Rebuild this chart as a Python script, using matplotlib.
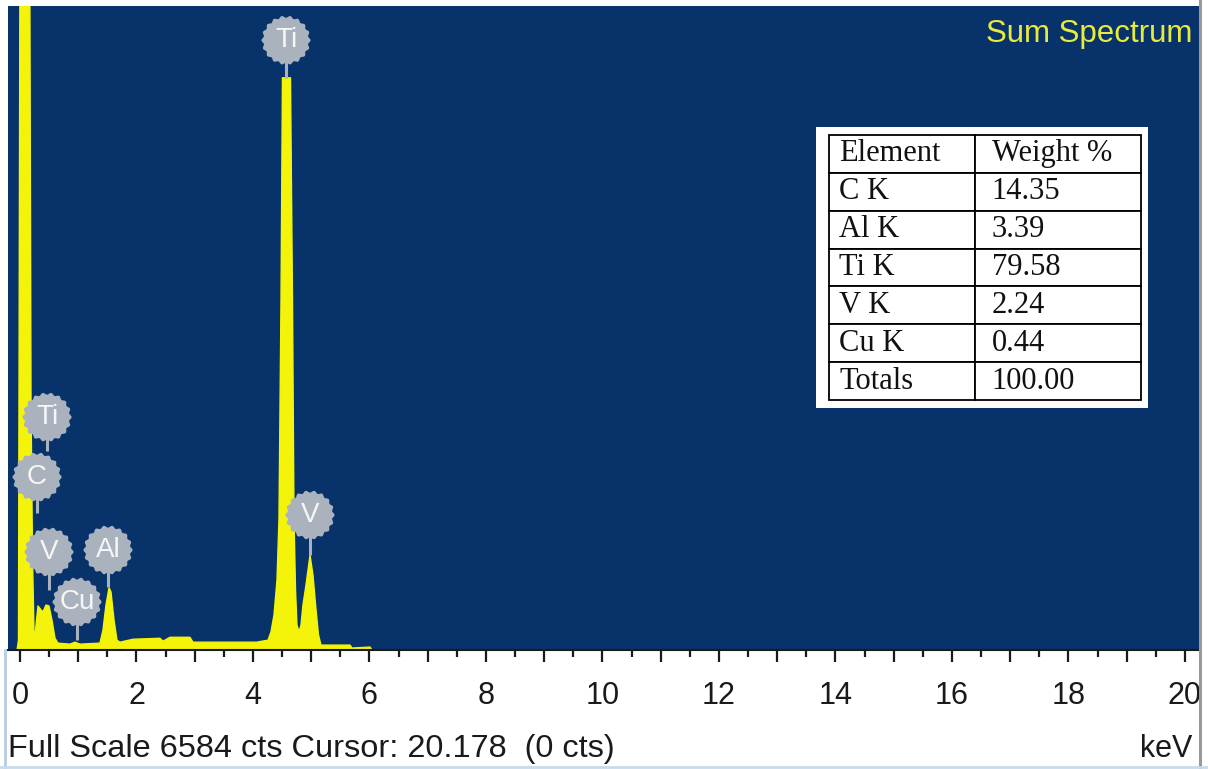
import numpy as np
import matplotlib
matplotlib.use("Agg")
import matplotlib.pyplot as plt
from matplotlib.path import Path
from matplotlib.lines import Line2D
from matplotlib.patches import Rectangle

# ---- spectrum outline (energy in keV, counts) ----
energy_kev = [-0.05, -0.026, 0.009, 0.155, 0.189, 0.215, 0.240, 0.258, 0.275,
              0.309, 0.361, 0.395, 0.446, 0.498, 0.549, 0.601, 0.652, 0.858,
              0.944, 1.030, 1.373, 1.425, 1.476, 1.528, 1.562, 1.614, 1.665,
              1.717, 1.940, 2.403, 2.455, 2.575, 2.918, 2.970, 4.069, 4.155,
              4.258, 4.309, 4.361, 4.412, 4.446, 4.481, 4.506, 4.644, 4.678,
              4.704, 4.730, 4.755, 4.790, 4.824, 4.858, 4.910, 4.979, 5.030,
              5.082, 5.124, 5.167, 5.665, 5.700, 6.009, 6.043, 20.3]
counts = [0, 100, 9800, 9800, 2550, 920, 200, 120, 255,
          450, 410, 390, 460, 450, 305, 120, 70, 60,
          80, 60, 70, 205, 460, 635, 595, 305, 100,
          80, 110, 120, 90, 130, 130, 80, 80, 90,
          100, 185, 360, 715, 1330, 3580, 5850, 5850, 3580,
          1330, 615, 255, 185, 255, 460, 665, 970, 765,
          410, 155, 50, 50, 20, 30, 0, 0]

# ---- peak labels ----
label_elements = ["Ti", "Ti", "C", "V", "Cu", "Al", "V"]
label_kev = [4.567, 0.464, 0.292, 0.498, 0.979, 1.511, 4.979]
label_cts = [6234, 2381, 1768, 1002, 491, 1022, 1380]
stem_end_cts = [5850, 2030, 1400, 610, 100, 640, 970]

# ---- quantification table ----
table_header = ["Element", "Weight %"]
table_elements = ["C K", "Al K", "Ti K", "V K", "Cu K", "Totals"]
table_weights = ["14.35", "3.39", "79.58", "2.24", "0.44", "100.00"]

# ---- acquisition info ----
full_scale_cts = 6584
cursor_kev = "20.178"
cursor_cts = 0

major_ticks = list(range(0, 21))
major_tick_labels = ["0", "", "2", "", "4", "", "6", "", "8", "", "10", "",
                     "12", "", "14", "", "16", "", "18", "", "20"]
minor_ticks = [v + 0.5 for v in range(0, 20)]

NAVY = "#07336A"
YELLOW = "#F4F40A"
BADGE = "#AAB2BE"
SANS = "Liberation Sans"
SERIF = "Liberation Serif"

W, H = 1208, 769
fig = plt.figure(figsize=(W / 100, H / 100), dpi=100)
fig.patch.set_facecolor("white")

ax = fig.add_axes([8 / W, (H - 650) / H, 1192 / W, 644 / H])
ax.set_facecolor(NAVY)
ax.set_xlim(-0.206, 20.258)
ax.set_ylim(0, full_scale_cts)

# spectrum
ax.fill_between(energy_kev, counts, 0, color=YELLOW, lw=0, zorder=2)
ax.plot(energy_kev, counts, color=YELLOW, lw=1.0, zorder=2)

# scalloped badge marker
theta = np.linspace(0, 2 * np.pi, 241)
rad = 1 + 0.045 * np.cos(18 * theta)
badge = Path(np.column_stack([rad * np.cos(theta), rad * np.sin(theta)]), closed=True)

for el, xk, yc, ys in zip(label_elements, label_kev, label_cts, stem_end_cts):
    ax.plot([xk, xk], [ys, yc], color=BADGE, lw=2.2, zorder=3, solid_capstyle="butt")
    ax.scatter([xk], [yc], s=1250, marker=badge, color=BADGE, edgecolors="none", zorder=4)
    ax.text(xk, yc, el, ha="center", va="center", fontsize=20, color="#F6F6F6",
            family=SANS, zorder=5)

# title
ax.text(0.9933, 0.9565, "Sum Spectrum", transform=ax.transAxes, ha="right",
        va="center", fontsize=22.5, color="#E8EA3C", family=SANS)

# table with white backing
ax.add_patch(Rectangle((0.6779, 0.3758), 0.2785, 0.4363, transform=ax.transAxes,
                       facecolor="white", edgecolor="none", zorder=6))
cell_text = [table_header] + [[e, w] for e, w in zip(table_elements, table_weights)]
tbl = ax.table(cellText=cell_text, colWidths=[0.468, 0.532],
               bbox=[0.6888, 0.3882, 0.2617, 0.4115], cellLoc="left", zorder=7)
tbl.auto_set_font_size(False)
tbl.set_fontsize(22)
for (r, c), cell in tbl.get_celld().items():
    cell.set_edgecolor("black")
    cell.set_linewidth(1.3)
    cell.set_facecolor("white")
    cell.PAD = 0.07 if c == 0 else 0.1
    cell.get_text().set_family(SERIF)
    cell.get_text().set_color("#111111")

# axes styling
for side in ("left", "top", "right"):
    ax.spines[side].set_visible(False)
ax.spines["bottom"].set_color("#1a1a1a")
ax.spines["bottom"].set_linewidth(1.5)
ax.set_yticks([])
ax.set_xticks(major_ticks)
ax.set_xticklabels(major_tick_labels)
ax.set_xticks(minor_ticks, minor=True)
ax.tick_params(axis="x", which="major", direction="out", length=8.5, width=1.6,
               color="#1a1a1a", pad=14, labelsize=22, labelcolor="#1a1a1a")
ax.tick_params(axis="x", which="minor", direction="out", length=5, width=1.6,
               color="#1a1a1a")
for lbl in ax.get_xticklabels():
    lbl.set_family(SANS)

# footer text
fig.text(8 / W, 12 / H,
         f"Full Scale {full_scale_cts} cts Cursor: {cursor_kev}  ({cursor_cts} cts)",
         ha="left", va="baseline", fontsize=23.4, color="#1a1a1a", family=SANS)
fig.text(1192 / W, 12 / H, "keV", ha="right", va="baseline", fontsize=22,
         color="#1a1a1a", family=SANS)

# frame lines
fig.add_artist(Line2D([1199.5 / W, 1199.5 / W], [0, 1], transform=fig.transFigure,
                      color="#9A9A9A", lw=2.2))
fig.add_artist(Line2D([5 / W, 5 / W], [0, (H - 650) / H], transform=fig.transFigure,
                      color="#B8CCE4", lw=2))
fig.add_artist(Line2D([0, 1], [2 / H, 2 / H], transform=fig.transFigure,
                      color="#C8DAEE", lw=2))

fig.savefig("out.png", dpi=100, facecolor="white")
